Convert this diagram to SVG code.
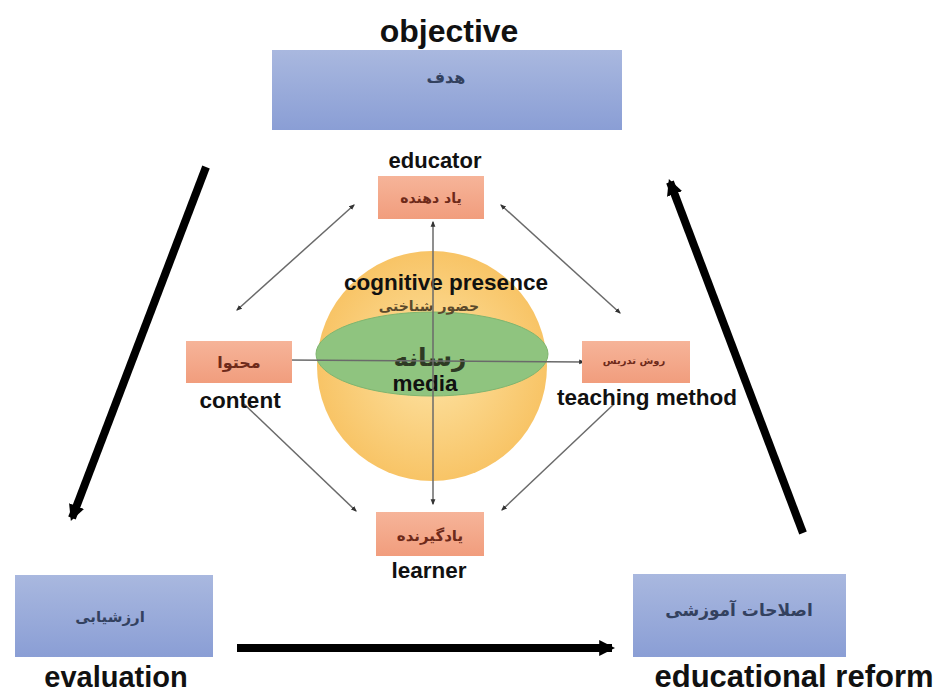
<svg xmlns="http://www.w3.org/2000/svg" width="940" height="694" viewBox="0 0 940 694">
  <defs>
    <linearGradient id="blueFill" x1="0" y1="0" x2="0" y2="1">
      <stop offset="0" stop-color="#a9b8df"/>
      <stop offset="1" stop-color="#8a9ed5"/>
    </linearGradient>
    <linearGradient id="salmonFill" x1="0" y1="0" x2="0" y2="1">
      <stop offset="0" stop-color="#f6b499"/>
      <stop offset="1" stop-color="#f19d7d"/>
    </linearGradient>
    <radialGradient id="sphereFill" cx="0.5" cy="0.5" r="0.5">
      <stop offset="0" stop-color="#fde3a4"/>
      <stop offset="1" stop-color="#f8c466"/>
    </radialGradient>
    <marker id="thinHead" viewBox="0 0 10 10" refX="8" refY="5" markerWidth="6" markerHeight="6" markerUnits="userSpaceOnUse" orient="auto-start-reverse">
      <path d="M0,1 L10,5 L0,9 Z" fill="#333"/>
    </marker>
    <marker id="boldHead" viewBox="0 0 10 10" refX="8" refY="5" markerWidth="16" markerHeight="16" markerUnits="userSpaceOnUse" orient="auto">
      <path d="M0,0 L10,5 L0,10 Z" fill="#000"/>
    </marker>
  </defs>
  <style>
    .blue { fill: url(#blueFill); }
    .salmon { fill: url(#salmonFill); }
    .en { font-family: "Liberation Sans", Arial, sans-serif; font-weight: bold; fill: #111; text-anchor: middle; }
    .fa { font-family: "DejaVu Sans", "Noto Sans", sans-serif; font-weight: bold; text-anchor: middle; }
    .faBlue { fill: #33415f; }
    .faRed { fill: #6e2a1a; }
    .thin { stroke: #6a6a6a; stroke-width: 1.5; fill: none; }
    .bold { stroke: #000; stroke-width: 8; fill: none; }
  </style>

  <rect width="940" height="694" fill="#fff"/>

  <!-- central sphere: cognitive presence with media band -->
  <g id="sphere">
    <circle cx="432" cy="366" r="115" fill="url(#sphereFill)"/>
    <ellipse cx="432" cy="354" rx="116" ry="42" fill="#8fc47f" stroke="#7fb56f" stroke-width="1"/>
    <text class="en" x="446" y="290" font-size="22.5">cognitive presence</text>
    <text class="fa" x="429" y="311" font-size="14" fill="#5b4a2c">حضور شناختی</text>
    <text class="fa" x="430" y="366" font-size="25" fill="#2e3a24">رسانه</text>
    <text class="en" x="425" y="391" font-size="22.5">media</text>
  </g>

  <!-- connectors -->
  <g id="connectors">
    <line class="thin" x1="433" y1="222" x2="433" y2="504" marker-start="url(#thinHead)" marker-end="url(#thinHead)"/>
    <line class="thin" x1="287" y1="360" x2="584" y2="362" marker-start="url(#thinHead)" marker-end="url(#thinHead)"/>
    <line class="thin" x1="354" y1="205" x2="237" y2="310" marker-start="url(#thinHead)" marker-end="url(#thinHead)"/>
    <line class="thin" x1="501" y1="205" x2="620" y2="313" marker-start="url(#thinHead)" marker-end="url(#thinHead)"/>
    <line class="thin" x1="244" y1="404" x2="356" y2="511" marker-end="url(#thinHead)"/>
    <line class="thin" x1="614" y1="404" x2="502" y2="510" marker-end="url(#thinHead)"/>
    <line class="bold" x1="206" y1="167" x2="72" y2="518" marker-end="url(#boldHead)"/>
    <line class="bold" x1="237" y1="648" x2="612" y2="648" marker-end="url(#boldHead)"/>
    <line class="bold" x1="803" y1="533" x2="670" y2="182" marker-end="url(#boldHead)"/>
  </g>

  <g id="objective">
    <text class="en" x="449" y="42" font-size="32">objective</text>
    <rect class="blue" x="272" y="50" width="350" height="80"/>
    <text class="fa faBlue" x="446" y="83" font-size="16">هدف</text>
  </g>

  <g id="educator">
    <text class="en" x="435" y="168" font-size="22">educator</text>
    <rect class="salmon" x="378" y="176" width="106" height="43"/>
    <text class="fa faRed" x="431" y="203" font-size="14">یاد دهنده</text>
  </g>

  <g id="content">
    <rect class="salmon" x="186" y="341" width="106" height="42"/>
    <text class="fa faRed" x="239" y="368" font-size="16">محتوا</text>
    <text class="en" x="240" y="408" font-size="22.5">content</text>
  </g>

  <g id="teaching-method">
    <rect class="salmon" x="582" y="341" width="108" height="42"/>
    <text class="fa faRed" x="634" y="364" font-size="10">روش تدریس</text>
    <text class="en" x="647" y="405" font-size="22.5">teaching method</text>
  </g>

  <g id="learner">
    <rect class="salmon" x="376" y="512" width="108" height="44"/>
    <text class="fa faRed" x="430" y="541" font-size="15">یادگیرنده</text>
    <text class="en" x="429" y="578" font-size="22.5">learner</text>
  </g>

  <g id="evaluation">
    <rect class="blue" x="15" y="575" width="198" height="82"/>
    <text class="fa faBlue" x="110" y="622" font-size="15">ارزشیابی</text>
    <text class="en" x="116" y="687" font-size="29">evaluation</text>
  </g>

  <g id="educational-reform">
    <rect class="blue" x="633" y="574" width="213" height="83"/>
    <text class="fa faBlue" x="739" y="616" font-size="17">اصلاحات آموزشی</text>
    <text class="en" x="794" y="687" font-size="31">educational reform</text>
  </g>
</svg>
